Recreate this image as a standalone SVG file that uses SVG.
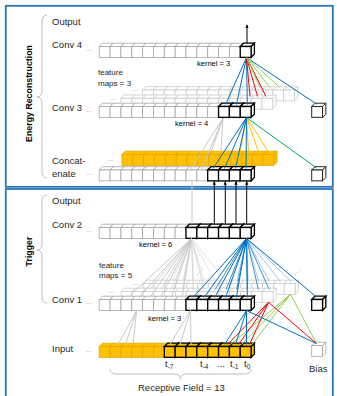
<svg xmlns="http://www.w3.org/2000/svg" width="337" height="396" viewBox="0 0 337 396">
<style>
.g{fill:#fff;stroke:#a6a6a6;stroke-width:.8}
.l{fill:#fff;stroke:#cccccc;stroke-width:.8}
.b{fill:#fff;stroke:#000;stroke-width:1.3}
.k{fill:#fff;stroke:#262626;stroke-width:1}
.y{fill:#ffc000;stroke:#e0a800;stroke-width:.8}
.yb{fill:#ffc000;stroke:#000;stroke-width:1.3}
text{font-family:"Liberation Sans",Arial,sans-serif;fill:#262626}
.lab{font-size:9.5px}
.sm{font-size:8px}
.ker{font-size:7.5px;fill:#000}
.dots{font-size:7px;fill:#a6a6a6}
.ttl{font-size:8.8px;font-weight:bold;fill:#000}
.br{fill:none;stroke:#bfbfbf;stroke-width:1}
.frame{fill:none;stroke:#2e75b6;stroke-width:1.8}
#connectors line{stroke-width:1}
.bl{stroke:#0070c0}
.bm{stroke:#3d8fd6}
.bx{stroke:#a6c8ea}
.rd{stroke:#ff0000}
.gn{stroke:#92d050}
.gd{stroke:#00b050}
.yl{stroke:#ffc000}
.gr{stroke:#c8c8c8}
.gr2{stroke:#d6d6d6}
.gr3{stroke:#e3e3e3}
.ar{stroke:#000;marker-end:url(#ah)}
</style>
<defs>
<marker id="ah" viewBox="0 0 6 6" refX="5" refY="3" markerWidth="4" markerHeight="4" orient="auto"><path d="M0,0.5L6,3L0,5.5Z" fill="#000"/></marker>
<g id="c"><path d="M0,0L3.3,-3.3H14.15L10.85,0Z"/><path d="M10.85,0L14.15,-3.3V7.55L10.85,10.85Z"/><rect width="10.85" height="10.85"/></g>
<g id="row"><use href="#c"/><use href="#c" x="10.85"/><use href="#c" x="21.7"/><use href="#c" x="32.55"/><use href="#c" x="43.4"/><use href="#c" x="54.25"/><use href="#c" x="65.1"/><use href="#c" x="75.95"/><use href="#c" x="86.8"/><use href="#c" x="97.65"/><use href="#c" x="108.5"/><use href="#c" x="119.35"/><use href="#c" x="130.2"/><use href="#c" x="141.05"/></g>
</defs>
<rect width="337" height="396" fill="#fff"/>
<g id="frames">
<rect class="frame" x="5.8" y="5.8" width="327" height="181"/>
<rect class="frame" x="5.8" y="189" width="327" height="220"/>
</g>
<g id="titles">
<text class="ttl" text-anchor="middle" transform="translate(31.5,93.5) rotate(-90)">Energy Reconstruction</text>
<text class="ttl" text-anchor="middle" transform="translate(31.5,251.5) rotate(-90)">Trigger</text>
<path class="br" d="M47,15Q42,15 42,22V90Q42,97 37,97Q42,97 42,104V171Q42,178 47,178"/>
<path class="br" d="M47,195Q42,195 42,202V243Q42,250 37,250Q42,250 42,257V296Q42,303 47,303"/>
<path class="br" d="M110,369Q110,374 117,374H174Q180.5,374 180.5,379Q180.5,374 187,374H244Q251,374 251,369"/>
</g>
<g id="conv4">
<text class="lab" x="52" y="25">Output</text>
<text class="lab" x="52" y="48">Conv 4</text>
<text class="dots" x="86" y="51">...</text>
<use href="#row" class="g" x="99.2" y="46.5"/>
<use href="#c" class="b" x="240.25" y="46.5"/>
<text class="ker" x="197" y="66">kernel = 3</text>
</g>
<g id="conv3">
<text class="sm" x="98" y="75">feature</text>
<text class="sm" x="98" y="86">maps =  3</text>
<text class="dots" x="131.5" y="91">...</text>
<use href="#row" class="l" x="142.6" y="90"/>
<text class="dots" x="110" y="100">...</text>
<use href="#row" class="l" x="120.9" y="98.3"/>
<text class="lab" x="52" y="111">Conv 3</text>
<text class="dots" x="86" y="111.5">...</text>
<use href="#row" class="g" x="99.2" y="106.5"/>
<use href="#c" class="b" x="218.55" y="106.5"/>
<use href="#c" class="b" x="229.4" y="106.5"/>
<use href="#c" class="b" x="240.25" y="106.5"/>
<text class="ker" x="175" y="126">kernel = 4</text>
</g>
<g id="bias-top">
<use href="#c" class="k" x="311.7" y="106.5"/>
<use href="#c" class="k" x="311.7" y="170"/>
</g>
<g id="concat">
<text class="lab" x="52" y="164">Concat-</text>
<text class="lab" x="52" y="177">enate</text>
<text class="dots" x="107" y="160.5">...</text>
<use href="#row" class="y" x="121.9" y="154.5"/>
<text class="dots" x="86" y="175">...</text>
<use href="#row" class="g" x="99.2" y="170"/>
<use href="#c" class="b" x="207.7" y="170"/>
<use href="#c" class="b" x="218.55" y="170"/>
<use href="#c" class="b" x="229.4" y="170"/>
<use href="#c" class="b" x="240.25" y="170"/>
</g>
<g id="conv2">
<text class="lab" x="52" y="204">Output</text>
<text class="lab" x="52" y="228">Conv 2</text>
<text class="dots" x="86" y="232">...</text>
<use href="#row" class="g" x="99.2" y="227.5"/>
<use href="#c" class="b" x="186" y="227.5"/>
<use href="#c" class="b" x="196.85" y="227.5"/>
<use href="#c" class="b" x="207.7" y="227.5"/>
<use href="#c" class="b" x="218.55" y="227.5"/>
<use href="#c" class="b" x="229.4" y="227.5"/>
<use href="#c" class="b" x="240.25" y="227.5"/>
<text class="ker" x="139" y="247">kernel = 6</text>
</g>
<g id="conv1">
<text class="sm" x="99" y="268">feature</text>
<text class="sm" x="99" y="278">maps = 5</text>
<text class="dots" x="132.5" y="284.5">...</text>
<use href="#row" class="l" x="143.2" y="283.5"/>
<text class="dots" x="108" y="293">...</text>
<use href="#row" class="l" x="121.2" y="291.5"/>
<text class="lab" x="52" y="303">Conv 1</text>
<text class="dots" x="86" y="304">...</text>
<use href="#row" class="g" x="99.2" y="299.5"/>
<use href="#c" class="b" x="186" y="299.5"/>
<use href="#c" class="b" x="196.85" y="299.5"/>
<use href="#c" class="b" x="207.7" y="299.5"/>
<use href="#c" class="b" x="218.55" y="299.5"/>
<use href="#c" class="b" x="229.4" y="299.5"/>
<use href="#c" class="b" x="240.25" y="299.5"/>
<line x1="197" y1="275" x2="203" y2="269" stroke="#bbb" stroke-dasharray="1,1.5"/>
<line x1="295" y1="275" x2="301" y2="269" stroke="#bbb" stroke-dasharray="1,1.5"/>
<text class="ker" x="148" y="320.5">kernel = 3</text>
</g>
<g id="bias-bottom">
<use href="#c" class="b" x="311.7" y="299.5"/>
<use href="#c" class="g" x="311.7" y="345.5"/>
<text class="lab" x="309" y="371.5">Bias</text>
</g>
<g id="input">
<text class="lab" x="52" y="352">Input</text>
<text class="dots" x="86" y="352">...</text>
<use href="#row" class="y" x="99.2" y="346.5"/>
<use href="#c" class="yb" x="164.3" y="346.5"/>
<use href="#c" class="yb" x="175.15" y="346.5"/>
<use href="#c" class="yb" x="186" y="346.5"/>
<use href="#c" class="yb" x="196.85" y="346.5"/>
<use href="#c" class="yb" x="207.7" y="346.5"/>
<use href="#c" class="yb" x="218.55" y="346.5"/>
<use href="#c" class="yb" x="229.4" y="346.5"/>
<use href="#c" class="yb" x="240.25" y="346.5"/>
<text class="lab" x="165" y="367">t<tspan font-size="6.5" dy="2">-7</tspan></text>
<text class="lab" x="200" y="367">t<tspan font-size="6.5" dy="2">-4</tspan></text>
<text class="lab" x="217" y="367">...</text>
<text class="lab" x="230" y="367">t<tspan font-size="6.5" dy="2">-1</tspan></text>
<text class="lab" x="244" y="367">t<tspan font-size="6.5" dy="2">0</tspan></text>
<text class="lab" x="138" y="391" font-size="8.5">Receptive Field = 13</text>
</g>
<g id="connectors">
<line class="ar" x1="247" y1="43" x2="247" y2="25"/>
<line class="bl" x1="246.5" y1="57.5" x2="225.6" y2="104.5"/>
<line class="bl" x1="246.5" y1="57.5" x2="236.4" y2="104.5"/>
<line class="bl" x1="246.5" y1="57.5" x2="247.3" y2="104.5"/>
<line class="bl" x1="246.5" y1="57.5" x2="316.5" y2="104"/>
<line class="rd" x1="246.5" y1="57.5" x2="250" y2="96.5"/>
<line class="rd" x1="246.5" y1="57.5" x2="257.5" y2="96.5"/>
<line class="rd" x1="246.5" y1="57.5" x2="266" y2="96.5"/>
<line class="gn" x1="246.5" y1="57.5" x2="260" y2="87.5"/>
<line class="gn" x1="246.5" y1="57.5" x2="270" y2="87.5"/>
<line class="gn" x1="246.5" y1="57.5" x2="280" y2="87.5"/>
<line class="gr" x1="223" y1="118" x2="191" y2="168.5"/>
<line class="gr" x1="223" y1="118" x2="202" y2="168.5"/>
<line class="gr" x1="223" y1="118" x2="211" y2="152"/>
<line class="gr" x1="223" y1="118" x2="221" y2="152"/>
<line class="yl" x1="246.5" y1="117.5" x2="240" y2="152"/>
<line class="yl" x1="246.5" y1="117.5" x2="248.5" y2="152"/>
<line class="yl" x1="246.5" y1="117.5" x2="258.5" y2="152"/>
<line class="yl" x1="246.5" y1="117.5" x2="268.5" y2="152"/>
<line class="bl" x1="246.5" y1="117.5" x2="213" y2="168.5"/>
<line class="bl" x1="246.5" y1="117.5" x2="224.5" y2="168.5"/>
<line class="bl" x1="246.5" y1="117.5" x2="235.5" y2="168.5"/>
<line class="bl" x1="246.5" y1="117.5" x2="246" y2="168.5"/>
<line class="gd" x1="246.5" y1="117.5" x2="316.5" y2="168"/>
<line class="gr" x1="192" y1="182" x2="192" y2="224"/>
<line class="ar" x1="214.3" y1="224" x2="214.3" y2="181.5"/>
<line class="ar" x1="225.3" y1="224" x2="225.3" y2="181.5"/>
<line class="ar" x1="236" y1="224" x2="236" y2="181.5"/>
<line class="ar" x1="246.7" y1="224" x2="246.7" y2="181.5"/>
<line class="gr3" x1="191.5" y1="238.5" x2="171.9" y2="281.6"/>
<line class="gr3" x1="191.5" y1="238.5" x2="182.8" y2="281.6"/>
<line class="gr3" x1="191.5" y1="238.5" x2="193.6" y2="281.6"/>
<line class="gr3" x1="191.5" y1="238.5" x2="204.5" y2="281.6"/>
<line class="gr3" x1="191.5" y1="238.5" x2="215.3" y2="281.6"/>
<line class="gr3" x1="191.5" y1="238.5" x2="226.2" y2="281.6"/>
<line class="gr2" x1="191.5" y1="238.5" x2="149.9" y2="289.6"/>
<line class="gr2" x1="191.5" y1="238.5" x2="160.8" y2="289.6"/>
<line class="gr2" x1="191.5" y1="238.5" x2="171.6" y2="289.6"/>
<line class="gr2" x1="191.5" y1="238.5" x2="182.5" y2="289.6"/>
<line class="gr2" x1="191.5" y1="238.5" x2="193.3" y2="289.6"/>
<line class="gr2" x1="191.5" y1="238.5" x2="204.2" y2="289.6"/>
<line class="gr" x1="191.5" y1="238.5" x2="127.9" y2="297.5"/>
<line class="gr" x1="191.5" y1="238.5" x2="138.8" y2="297.5"/>
<line class="gr" x1="191.5" y1="238.5" x2="149.6" y2="297.5"/>
<line class="gr" x1="191.5" y1="238.5" x2="160.5" y2="297.5"/>
<line class="gr" x1="191.5" y1="238.5" x2="171.3" y2="297.5"/>
<line class="gr" x1="191.5" y1="238.5" x2="182.2" y2="297.5"/>
<line class="bx" x1="246.5" y1="238.5" x2="237" y2="281.6"/>
<line class="bx" x1="246.5" y1="238.5" x2="248" y2="281.6"/>
<line class="bx" x1="246.5" y1="238.5" x2="258.7" y2="281.6"/>
<line class="bx" x1="246.5" y1="238.5" x2="269.5" y2="281.6"/>
<line class="bx" x1="246.5" y1="238.5" x2="280.4" y2="281.6"/>
<line class="bx" x1="246.5" y1="238.5" x2="291.3" y2="281.6"/>
<line class="bm" x1="246.5" y1="238.5" x2="215" y2="289.6"/>
<line class="bm" x1="246.5" y1="238.5" x2="226" y2="289.6"/>
<line class="bm" x1="246.5" y1="238.5" x2="236.7" y2="289.6"/>
<line class="bm" x1="246.5" y1="238.5" x2="247.5" y2="289.6"/>
<line class="bm" x1="246.5" y1="238.5" x2="258.4" y2="289.6"/>
<line class="bm" x1="246.5" y1="238.5" x2="269.3" y2="289.6"/>
<line class="bl" x1="246.5" y1="238.5" x2="193" y2="297.5"/>
<line class="bl" x1="246.5" y1="238.5" x2="204" y2="297.5"/>
<line class="bl" x1="246.5" y1="238.5" x2="214.7" y2="297.5"/>
<line class="bl" x1="246.5" y1="238.5" x2="225.6" y2="297.5"/>
<line class="bl" x1="246.5" y1="238.5" x2="236.4" y2="297.5"/>
<line class="bl" x1="246.5" y1="238.5" x2="247.3" y2="297.5"/>
<line class="bl" x1="246.5" y1="238.5" x2="316.5" y2="297"/>
<line class="gr" x1="136.7" y1="310.5" x2="118" y2="344.5"/>
<line class="gr" x1="136.7" y1="310.5" x2="125.5" y2="344.5"/>
<line class="gr" x1="136.7" y1="310.5" x2="133" y2="344.5"/>
<line class="gr" x1="190.5" y1="310.5" x2="170" y2="344.5"/>
<line class="gr" x1="190.5" y1="310.5" x2="180" y2="344.5"/>
<line class="gr" x1="190.5" y1="310.5" x2="191" y2="344.5"/>
<line class="gn" x1="290.5" y1="294.3" x2="230.5" y2="344.5"/>
<line class="gn" x1="290.5" y1="294.3" x2="241.5" y2="344.5"/>
<line class="gn" x1="290.5" y1="294.3" x2="252" y2="344.5"/>
<line class="gn" x1="290.5" y1="294.3" x2="316.5" y2="343.5"/>
<line class="rd" x1="268.5" y1="302.3" x2="227.5" y2="344.5"/>
<line class="rd" x1="268.5" y1="302.3" x2="238.5" y2="344.5"/>
<line class="rd" x1="268.5" y1="302.3" x2="249.5" y2="344.5"/>
<line class="rd" x1="268.5" y1="302.3" x2="316.5" y2="343.5"/>
<line class="bl" x1="246.5" y1="310.5" x2="224.5" y2="344.5"/>
<line class="bl" x1="246.5" y1="310.5" x2="235.5" y2="344.5"/>
<line class="bl" x1="246.5" y1="310.5" x2="246.5" y2="344.5"/>
<line class="bl" x1="246.5" y1="310.5" x2="316.5" y2="343.5"/>
</g>
</svg>
